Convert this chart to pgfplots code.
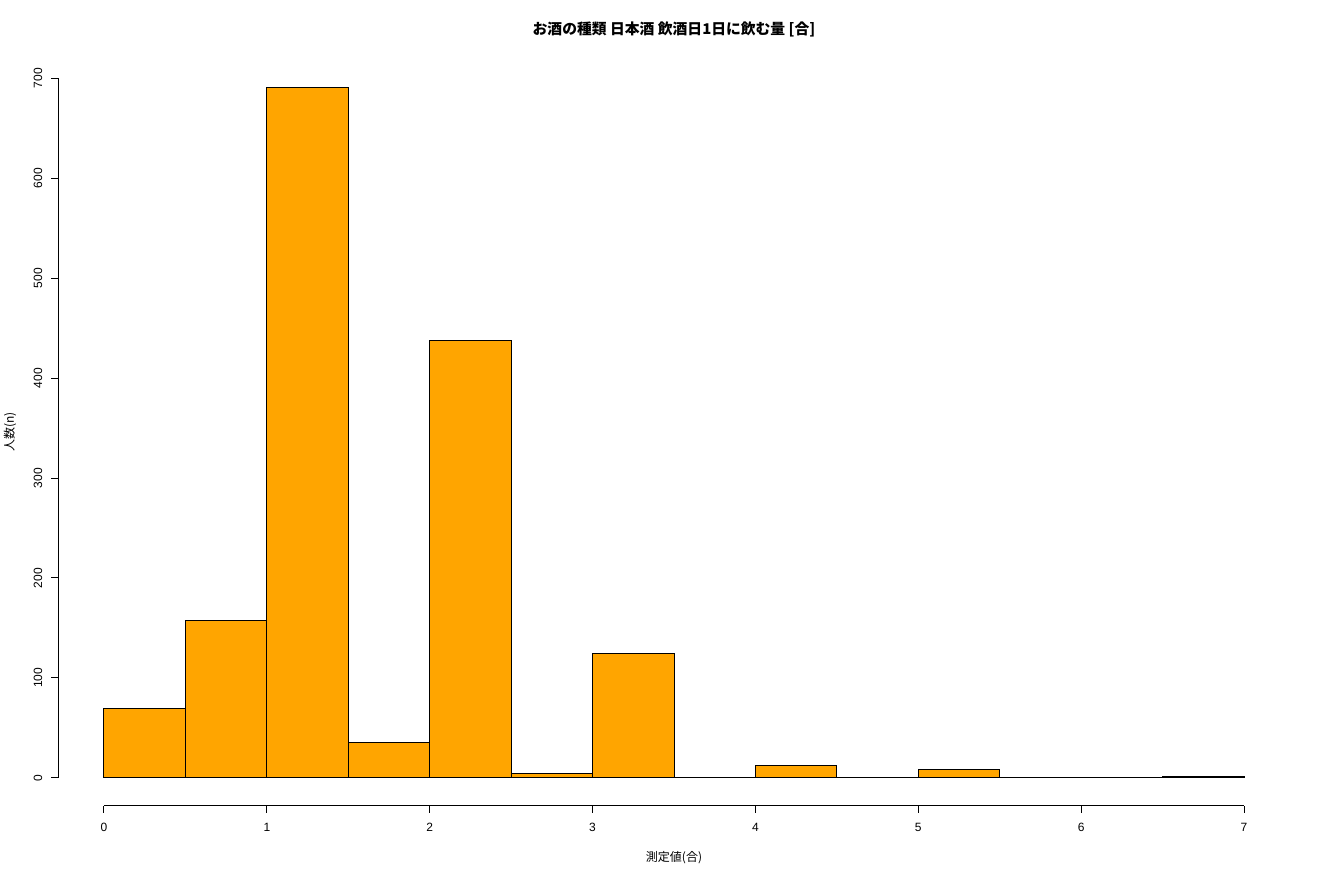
\documentclass[border=0pt]{standalone}
\usepackage{fontspec}
\setmainfont{Liberation Sans}
\newfontfamily\cjk{Noto Sans CJK JP}
\usepackage{pgfplots}
\pgfplotsset{compat=1.18}
\definecolor{rorange}{RGB}{255,165,0}
\begin{document}
\begin{tikzpicture}
\begin{axis}[at={(0,0)}, anchor=south west, scale only axis,
  width=615.6pt, height=373.1pt,
  xmin=-0.28, xmax=7.28, ymin=-27.64, ymax=718.64,
  axis line style={draw=none},
  xtick pos=bottom, ytick pos=left,
  tick align=outside, major tick length=3.6pt,
  tick style={black, line width=0.5pt},
  xtick={0,1,...,7}, ytick={0,100,...,700},
  /pgf/number format/assume math mode=true,
  ticklabel style={font=\fontsize{6}{7}\selectfont},
  xticklabel style={anchor=center, yshift=-7.1pt},
  yticklabel style={xshift=-6.6pt, rotate=90, anchor=center},
  clip=false]
\addplot[ybar interval, fill=rorange, draw=black, line width=0.5pt] coordinates {
(0,69) (0.5,157) (1,691) (1.5,35) (2,438) (2.5,4) (3,124) (3.5,0) (4,12) (4.5,0) (5,8) (5.5,0) (6,0) (6.5,1) (7,1)};
\draw[line width=0.5pt] (axis cs:0,-27.64) -- (axis cs:7,-27.64);
\draw[line width=0.5pt] (axis cs:-0.28,0) -- (axis cs:-0.28,700);
\end{axis}
\node[font=\cjk\bfseries\fontsize{7.4}{8}\selectfont] at (307.8pt,388.3pt) {お酒の種類 日本酒 飲酒日1日に飲む量 [合]};
\node[font=\cjk\fontsize{6}{7}\selectfont] at (307.8pt,-26.2pt) {測定値(合)};
\node[font=\cjk\fontsize{6}{7}\selectfont, rotate=90] at (-24.2pt,186.8pt) {人数(n)};
\pgfresetboundingbox
\path (-29.2pt,-37.2pt) rectangle (630.8pt,402.8pt);
\end{tikzpicture}
\end{document}
